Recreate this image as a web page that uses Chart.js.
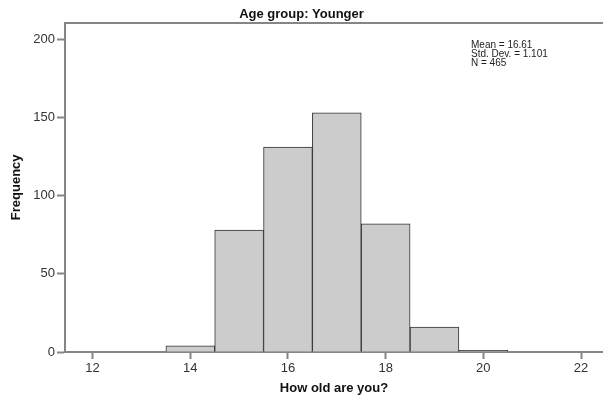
<!DOCTYPE html>
<html>
<head>
<meta charset="utf-8">
<script src="https://cdn.jsdelivr.net/npm/chart.js@4.4.1/dist/chart.umd.min.js"></script>
<style>
html,body{margin:0;padding:0;background:#fff;}
canvas{display:block;}
</style>
</head>
<body>
<canvas id="c" width="603" height="401"></canvas>
<script>
// Data
const binCenters = [14, 15, 16, 17, 18, 19, 20];
const frequencies = [4, 78, 131, 153, 82, 16, 1];
const xTickValues = [12, 14, 16, 18, 20, 22];
const yTickValues = [0, 50, 100, 150, 200];
const statsLines = ['Mean = 16.61', 'Std. Dev. = 1.101', 'N = 465'];
const chartTitle = 'Age group: Younger';
const xTitle = 'How old are you?';
const yTitle = 'Frequency';

const AXIS = '#858585';
const FONT = "'Liberation Sans', Arial, sans-serif";

const framePlugin = {
  id: 'frameAndStats',
  afterDatasetsDraw(chart) {
    const {ctx, chartArea} = chart;
    ctx.save();
    ctx.strokeStyle = AXIS;
    ctx.lineWidth = 2;
    ctx.beginPath();
    ctx.moveTo(chartArea.left, chartArea.top + 0.5);
    ctx.lineTo(chartArea.right, chartArea.top + 0.5);
    ctx.stroke();
    ctx.fillStyle = '#222';
    ctx.font = '10px ' + FONT;
    ctx.textBaseline = 'middle';
    ctx.textAlign = 'left';
    const x0 = chartArea.right - 132;
    statsLines.forEach((t, i) => ctx.fillText(t, x0, chartArea.top + 22.5 + i * 9));
    ctx.restore();
  }
};

new Chart(document.getElementById('c'), {
  type: 'bar',
  data: {
    datasets: [{
      data: binCenters.map((x, i) => ({x: x, y: frequencies[i]})),
      backgroundColor: '#cccccc',
      borderColor: '#333333',
      borderWidth: 1,
      barPercentage: 1,
      categoryPercentage: 1
    }]
  },
  options: {
    responsive: false,
    devicePixelRatio: 1,
    animation: false,
    layout: {padding: 0},
    plugins: {
      legend: {display: false},
      tooltip: {enabled: false},
      title: {
        display: true,
        text: chartTitle,
        color: '#111',
        font: {family: FONT, size: 13, weight: 'bold', lineHeight: 1.2},
        padding: {top: 7, bottom: 0}
      }
    },
    scales: {
      x: {
        type: 'linear',
        min: 11.435,
        max: 22.45,
        offset: false,
        afterBuildTicks(s) { s.ticks = xTickValues.map(v => ({value: v})); },
        afterFit(s) { s.height = 49; },
        grid: {display: true, drawOnChartArea: false, drawTicks: true, tickLength: 7, tickColor: AXIS, tickWidth: 2, offset: false},
        border: {display: true, color: AXIS, width: 2},
        ticks: {color: '#333', font: {family: FONT, size: 13}, padding: 2, maxRotation: 0, autoSkip: false},
        title: {display: true, text: xTitle, color: '#111', font: {family: FONT, size: 13, weight: 'bold', lineHeight: 1.2}, padding: {top: 0, bottom: 5}}
      },
      y: {
        type: 'linear',
        min: 0,
        max: 210.7,
        afterBuildTicks(s) { s.ticks = yTickValues.map(v => ({value: v})); },
        afterFit(s) { s.width = 65; },
        grid: {display: true, drawOnChartArea: false, drawTicks: true, tickLength: 8, tickColor: AXIS, tickWidth: 2},
        border: {display: true, color: AXIS, width: 2},
        ticks: {color: '#333', font: {family: FONT, size: 13}, padding: 2, autoSkip: false},
        title: {display: true, text: yTitle, color: '#111', font: {family: FONT, size: 13, weight: 'bold', lineHeight: 1.2}, padding: {top: 9, bottom: 0}}
      }
    }
  },
  plugins: [framePlugin]
});
</script>
</body>
</html>
